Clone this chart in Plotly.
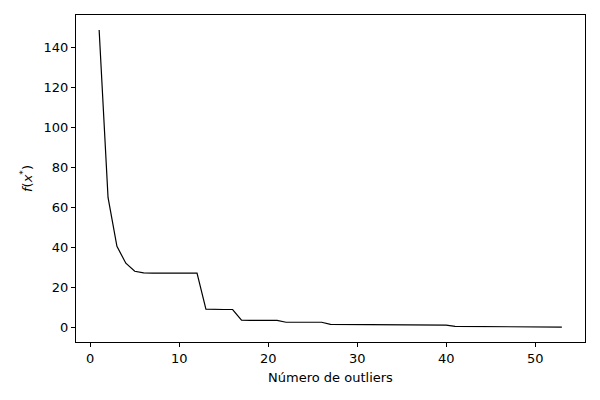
import plotly.graph_objects as go

outliers = list(range(1, 54))
fvals = [149, 65, 40.5, 32, 28, 27.2, 27, 27, 27, 27, 27, 27,
         9.0, 8.8, 8.8, 8.8,
         3.5, 3.3, 3.3, 3.3, 3.3,
         2.4, 2.4, 2.4, 2.4, 2.4,
         1.3, 1.3, 1.3, 1.3, 1.3, 1.3, 1.3,
         1.0, 1.0, 1.0, 1.0, 1.0, 1.0, 1.0,
         0.3, 0.3, 0.3, 0.3, 0.3, 0.3, 0.3, 0.3, 0.3,
         0.0, 0.0, 0.0, 0.0]

fig = go.Figure(go.Scatter(x=outliers, y=fvals, mode="lines",
                           line=dict(color="black", width=1.2)))
ax = dict(showline=True, linecolor="black", linewidth=1, mirror=True,
          ticks="outside", ticklen=4, tickcolor="black", showgrid=False,
          zeroline=False, tickfont=dict(size=13, color="black"))
fig.update_layout(
    width=600, height=400, plot_bgcolor="white", paper_bgcolor="white",
    margin=dict(l=68, r=23, t=7, b=66), showlegend=False,
    font=dict(family="DejaVu Sans", color="black"),
    xaxis=dict(ax, range=[-1.6, 55.6], tickvals=[0, 10, 20, 30, 40, 50],
               title=dict(text="Número de outliers", font=dict(size=13), standoff=8)),
    yaxis=dict(ax, range=[-7.5, 156.5], tickvals=[0, 20, 40, 60, 80, 100, 120, 140],
               title=dict(text="<i>f</i>(<i>x</i><sup>*</sup>)", font=dict(size=13), standoff=8)),
)
fig.write_html("out.html")
